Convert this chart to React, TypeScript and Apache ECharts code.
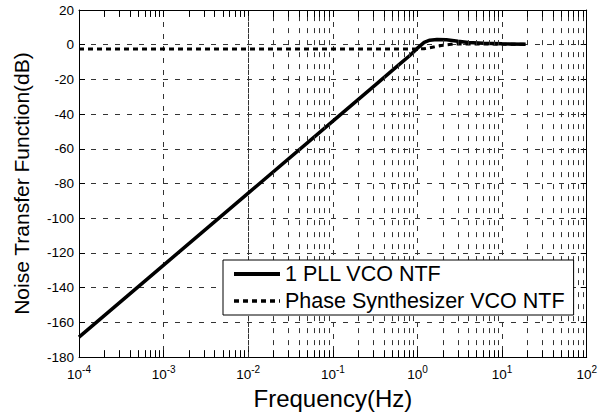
import React, { useEffect, useRef } from "react";
import * as echarts from "echarts";

// ---- data ----
const freqHz = [1e-4, 1e-3, 1e-2, 1e-1, 0.316, 0.63, 0.8, 1.0, 1.2, 1.4, 1.7, 2.2, 3, 4, 6, 10, 19];
const pllVcoNtf = [-168.5, -127, -85.5, -44, -23.3, -10.8, -6.5, -2.0, 1.3, 2.6, 3.0, 2.9, 2.0, 1.3, 0.8, 0.5, 0.3];
const synthFreqHz = [1e-4, 1e-3, 1e-2, 1e-1, 1.0, 1.2, 1.6, 2.0, 2.5, 3, 5, 10, 19];
const synthVcoNtf = [-2.5, -2.5, -2.5, -2.5, -2.5, -2.3, -1.2, -0.3, 0.2, 0.4, 0.4, 0.3, 0.3];
const seriesNames = ["1 PLL VCO NTF", "Phase Synthesizer VCO NTF"];
const xDecades = [-4, -3, -2, -1, 0, 1];
const minorMultipliers = [2, 3, 4, 5, 6, 7, 8, 9];
const xMin = 1e-4;
const xMax = 100;
const yMin = -180;
const yMax = 20;
const yStep = 20;

const FONT = "Liberation Sans, Arial, Helvetica, sans-serif";
const GRID_COLOR = "#333333";
const DASH = [5, 7];

export default function App() {
  const ref = useRef<HTMLDivElement>(null);

  useEffect(() => {
    if (!ref.current) return;
    const chart = echarts.init(ref.current, undefined, { renderer: "svg" });

    const minorVals: number[] = [];
    xDecades.forEach((d) => {
      minorMultipliers.forEach((m) => minorVals.push(m * Math.pow(10, d)));
    });

    const gridLines = minorVals.map((v) => ({ xAxis: v }));
    const bottomTicks = minorVals.map((v) => [
      { coord: [v, yMin] },
      { coord: [v, yMin + 4] },
    ]);
    const topTicks = minorVals.map((v) => [
      { coord: [v, yMax] },
      { coord: [v, yMax - 4] },
    ]);

    const solidData = freqHz.map((f, i) => [f, pllVcoNtf[i]]);
    const dottedData = synthFreqHz.map((f, i) => [f, synthVcoNtf[i]]);

    const xAxisCommon = {
      type: "log" as const,
      logBase: 10,
      min: xMin,
      max: xMax,
      axisLine: { show: true, onZero: false, lineStyle: { color: "#000", width: 1 } },
      axisTick: { show: true, inside: true, length: 7, lineStyle: { color: "#000", width: 1 } },
      minorTick: { show: false },
    };
    const yAxisCommon = {
      type: "value" as const,
      min: yMin,
      max: yMax,
      interval: yStep,
      axisLine: { show: true, onZero: false, lineStyle: { color: "#000", width: 1 } },
      axisTick: { show: true, inside: true, length: 6, lineStyle: { color: "#000", width: 1 } },
    };

    chart.setOption({
      animation: false,
      backgroundColor: "#fff",
      textStyle: { fontFamily: FONT },
      grid: { left: 79, right: 8, top: 10, bottom: 57, containLabel: false },
      xAxis: [
        {
          ...xAxisCommon,
          position: "bottom",
          name: "Frequency(Hz)",
          nameLocation: "middle",
          nameGap: 25,
          nameTextStyle: { fontSize: 24, color: "#000", fontFamily: FONT },
          splitLine: { show: true, lineStyle: { color: GRID_COLOR, width: 1, type: DASH } },
          axisLabel: {
            show: true,
            margin: 7,
            color: "#000",
            fontFamily: FONT,
            formatter: (v: number) => {
              const e = Math.round(Math.log10(v));
              return `{b|10}{s|${e}}`;
            },
            rich: {
              b: { fontSize: 13.5, color: "#000", fontFamily: FONT },
              s: { fontSize: 10, color: "#000", fontFamily: FONT, padding: [0, 0, 10, 0] },
            },
          },
        },
        {
          ...xAxisCommon,
          position: "top",
          axisLabel: { show: false },
          splitLine: { show: false },
        },
      ],
      yAxis: [
        {
          ...yAxisCommon,
          position: "left",
          name: "Noise Transfer Function(dB)",
          nameLocation: "middle",
          nameGap: 47,
          nameTextStyle: { fontSize: 21, color: "#000", fontFamily: FONT },
          axisLabel: { show: true, color: "#000", fontSize: 13.5, margin: 5, fontFamily: FONT },
          splitLine: { show: true, lineStyle: { color: GRID_COLOR, width: 1, type: DASH } },
        },
        {
          ...yAxisCommon,
          position: "right",
          axisLabel: { show: false },
          splitLine: { show: false },
        },
      ],
      legend: {
        show: true,
        orient: "vertical",
        left: 223,
        top: 260,
        z: 20,
        padding: [3, 9, 3, 9],
        itemGap: 5,
        itemWidth: 46,
        itemHeight: 14,
        backgroundColor: "#ffffff",
        borderColor: "#000",
        borderWidth: 1,
        borderRadius: 0,
        itemStyle: { opacity: 0 },
        textStyle: { fontSize: 21.5, color: "#000", fontFamily: FONT },
        data: [
          { name: seriesNames[0], lineStyle: { width: 4, color: "#000", type: "solid" } },
          { name: seriesNames[1], lineStyle: { width: 3.5, color: "#000", type: [5, 4] } },
        ],
      },
      series: [
        {
          type: "line",
          name: "grid-minor",
          data: [],
          silent: true,
          z: 1,
          markLine: {
            silent: true,
            symbol: ["none", "none"],
            label: { show: false },
            animation: false,
            lineStyle: { color: GRID_COLOR, width: 1, type: DASH },
            emphasis: { disabled: true },
            data: gridLines,
          },
        },
        {
          type: "line",
          name: "ticks-minor",
          data: [],
          silent: true,
          z: 1,
          markLine: {
            silent: true,
            symbol: ["none", "none"],
            label: { show: false },
            animation: false,
            lineStyle: { color: "#000", width: 1, type: "solid" },
            emphasis: { disabled: true },
            data: [...bottomTicks, ...topTicks] as any,
          },
        },
        {
          type: "line",
          name: seriesNames[0],
          data: solidData,
          showSymbol: false,
          symbol: "none",
          z: 3,
          lineStyle: { color: "#000", width: 3.5, type: "solid" },
          itemStyle: { color: "#000" },
        },
        {
          type: "line",
          name: seriesNames[1],
          data: dottedData,
          showSymbol: false,
          symbol: "none",
          z: 3,
          lineStyle: { color: "#000", width: 3, type: [5, 4], cap: "butt" },
          itemStyle: { color: "#000" },
        },
      ],
    });

    return () => chart.dispose();
  }, []);

  return (
    <div
      ref={ref}
      style={{ position: "fixed", left: 0, top: 0, width: 600, height: 415, background: "#fff" }}
    />
  );
}
